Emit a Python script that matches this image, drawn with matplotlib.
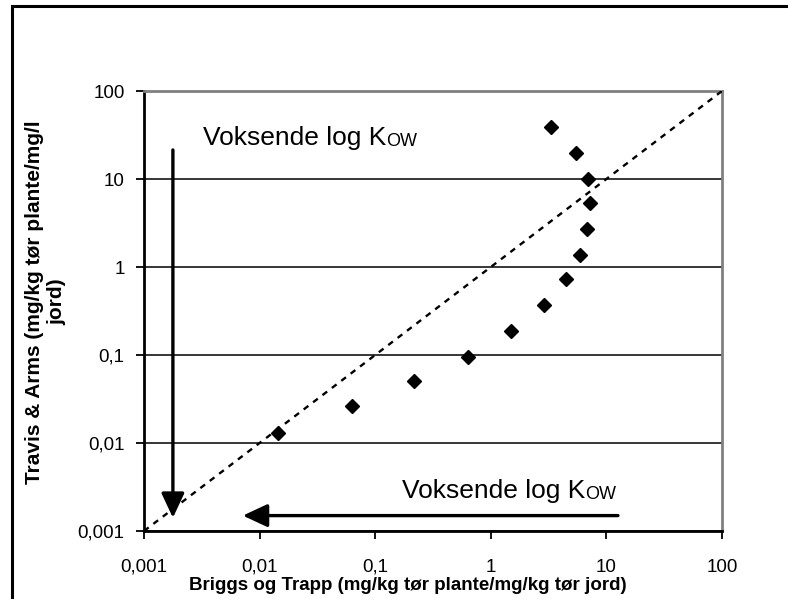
import matplotlib
matplotlib.use('Agg')
import matplotlib.pyplot as plt
from matplotlib.patches import Rectangle
from matplotlib.ticker import NullLocator

# Briggs og Trapp (x) vs Travis & Arms (y)
briggs = [3.3, 5.5, 7.0, 7.2, 6.8, 5.9, 4.5, 2.9, 1.49, 0.64, 0.218, 0.063, 0.0144]
travis = [38.7, 19.9, 10.1, 5.3, 2.7, 1.37, 0.725, 0.37, 0.189, 0.096, 0.051, 0.026, 0.0129]

one_to_one = [0.001, 100]

ticks = [0.001, 0.01, 0.1, 1, 10, 100]
tick_str = ('0,001', '0,01', '0,1', '1', '10', '100')

fam = ['Liberation Sans', 'DejaVu Sans']
tickfont = 13.5

fig = plt.figure(figsize=(7.88, 5.99), dpi=100)
ax = fig.add_axes([144/788, 1-531/599, 578/788, 440/599])

ax.set_xscale('log')
ax.set_yscale('log')
ax.set_xlim(0.001, 100)
ax.set_ylim(0.001, 100)

ax.plot(one_to_one, one_to_one, color='black', lw=1.7, ls=(0, (2.5, 2.5)), zorder=3)
ax.plot(briggs, travis, 'kD', ms=7, zorder=4, clip_on=False)

ax.set_xticks(ticks)
ax.set_xticklabels(tick_str, fontsize=tickfont, family=fam)
ax.set_yticks(ticks)
ax.set_yticklabels(tick_str, fontsize=tickfont, family=fam)
ax.xaxis.set_minor_locator(NullLocator())
ax.yaxis.set_minor_locator(NullLocator())
ax.tick_params(axis='x', direction='out', length=6, width=1.3, pad=14)
ax.tick_params(axis='y', direction='out', length=6, width=1.3, pad=8)

ax.yaxis.grid(True, which='major', color='black', lw=1.1)
ax.set_axisbelow(True)
for s in ['left', 'bottom']:
    ax.spines[s].set_linewidth(2)
    ax.spines[s].set_color('black')
for s in ['top', 'right']:
    ax.spines[s].set_linewidth(2)
    ax.spines[s].set_color('#808080')

# annotations
t1 = ax.text(0.102, 0.877, 'Voksende log K', transform=ax.transAxes, fontsize=19,
             family=fam, ha='left', va='baseline')
ax.annotate('OW', xy=(1, 0), xycoords=t1, fontsize=13, family=fam,
            ha='left', va='bottom')
t2 = ax.text(0.446, 0.075, 'Voksende log K', transform=ax.transAxes, fontsize=19,
             family=fam, ha='left', va='baseline')
ax.annotate('OW', xy=(1, 0), xycoords=t2, fontsize=13, family=fam,
            ha='left', va='bottom')

arrow = dict(arrowstyle='-|>,head_length=1.5,head_width=0.7', lw=2.4, color='black',
             shrinkA=0, shrinkB=0)
ax.annotate('', xy=(0.050, 0.030), xytext=(0.050, 0.866), xycoords='axes fraction', arrowprops=arrow)
ax.annotate('', xy=(0.171, 0.035), xytext=(0.820, 0.035), xycoords='axes fraction', arrowprops=arrow)

# axis labels
fig.text(408/788, 1-585/599, 'Briggs og Trapp (mg/kg tør plante/mg/kg tør jord)',
         fontsize=13.5, fontweight='bold', family=fam, ha='center', va='center')
fig.text(46/788, 1-302/599, 'Travis & Arms (mg/kg tør plante/mg/l\njord)',
         fontsize=15, fontweight='bold', family=fam, rotation=90,
         ha='center', va='center', multialignment='center', linespacing=1.2)

# frame round the chart
fig.add_artist(Rectangle((12/788, -0.1), 1.2, 1.1 - 6.5/599, transform=fig.transFigure,
                         fill=False, lw=2.2, edgecolor='black'))

fig.savefig('out.png', dpi=100)
